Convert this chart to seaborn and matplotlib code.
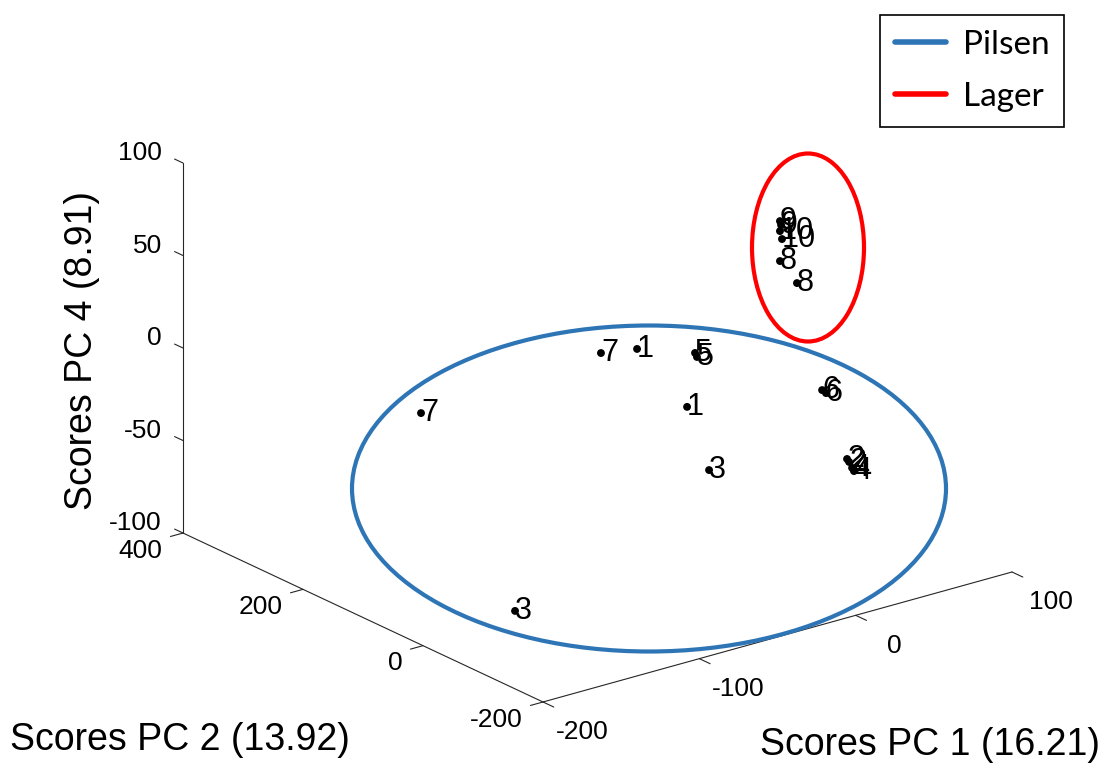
import numpy as np
import pandas as pd
import matplotlib
matplotlib.use("Agg")
import matplotlib.pyplot as plt
import seaborn as sns
from mpl_toolkits.mplot3d import proj3d
from matplotlib.patches import Ellipse
from matplotlib.lines import Line2D

# ---------------- data ----------------
sample_labels = ["7", "7", "1", "1", "5", "5", "3", "3", "6", "6", "2", "2", "4", "4",
                 "9", "9", "10", "10", "8", "8"]
beer_type = ["Pilsen"] * 14 + ["Lager"] * 6
pc1_scores = [-143.7, -28.6, -24.7, -11.9, 4.7, 4.4, -24.7, -179.5, 47.6, 49.3,
              48.2, 49.5, 49.9, 51.1, 66.7, 67.4, 66.7, 68.0, 66.7, 69.9]
pc2_scores = [150, 150, 100, 50, 80, 76, -20, -100, -20, -22,
              -60, -60, -64, -64, 100, 100, 100, 100, 100, 80]
pc4_scores = [-10.3, -4.8, 4.1, -22.6, -1.9, -3.4, -43.1, -70.8, -16.8, -18.5,
              -48.1, -50.0, -52.7, -54.7, 51.8, 49.5, 46.4, 41.8, 30.2, 20.6]

pc1_ticks = [-200, -100, 0, 100]
pc2_ticks = [-200, 0, 200, 400]
pc4_ticks = [-100, -50, 0, 50, 100]

group_names = ["Pilsen", "Lager"]
group_colors = ["#2E75B6", "#FF0000"]

xlabel_text = "Scores PC 1 (16.21)"
ylabel_text = "Scores PC 2 (13.92)"
zlabel_text = "Scores PC 4 (8.91)"

df = pd.DataFrame({"label": sample_labels, "type": beer_type,
                   "pc1": pc1_scores, "pc2": pc2_scores, "pc4": pc4_scores})

# ---------------- figure ----------------
W, H, DPI = 1106, 767, 100
sns.set_theme(style="white")
plt.rcParams["font.family"] = ["Liberation Sans", "DejaVu Sans"]
plt.rcParams["text.color"] = "black"
palette = dict(zip(group_names, sns.color_palette(group_colors)))

fig = plt.figure(figsize=(W / DPI, H / DPI), dpi=DPI)
fig.patch.set_facecolor("white")

side = 700
ax = fig.add_axes([200 / W, 30 / H, side / W, side / H], projection="3d")
ax.set_proj_type("ortho")
ax.view_init(elev=21.14, azim=-127.54)
ax.set_box_aspect((591.5, 590.8, 396.7))
xlo, xhi = pc1_ticks[0], pc1_ticks[-1]
ylo, yhi = pc2_ticks[0], pc2_ticks[-1]
zlo, zhi = pc4_ticks[0], pc4_ticks[-1]
ax.set_xlim(xlo, xhi)
ax.set_ylim(ylo, yhi)
ax.set_zlim(zlo, zhi)
ax.set_axis_off()
ax.patch.set_alpha(0)


def proj2d(xs, ys, zs):
    px, py, _ = proj3d.proj_transform(np.atleast_1d(np.asarray(xs, float)),
                                      np.atleast_1d(np.asarray(ys, float)),
                                      np.atleast_1d(np.asarray(zs, float)), ax.get_proj())
    return px, py


def to_px(xs, ys, zs):
    px, py = proj2d(xs, ys, zs)
    d = ax.transData.transform(np.column_stack([px, py]))
    return np.column_stack([d[:, 0], H - d[:, 1]])


# calibrate the axes box so that the 3D box corners land where the reference has them
ref_corners = np.array([[xlo, ylo, zlo], [xhi, ylo, zlo], [xlo, yhi, zlo], [xlo, yhi, zhi]])
target_px = np.array([[543, 702], [1012, 572], [183, 533], [183, 163]], float)
fig.canvas.draw()
cur = to_px(*ref_corners.T)
cv, tv = cur - cur[0], target_px - target_px[0]
s = (cv * tv).sum() / (cv * cv).sum()
pos = ax.get_position()
cx, cy = pos.x0 + pos.width / 2, pos.y0 + pos.height / 2
nw, nh = pos.width * s, pos.height * s
ax.set_position([cx - nw / 2, cy - nh / 2, nw, nh])
fig.canvas.draw()
cur = to_px(*ref_corners.T)
shift = (target_px - cur).mean(axis=0)
pos = ax.get_position()
ax.set_position([pos.x0 + shift[0] / W, pos.y0 - shift[1] / H, pos.width, pos.height])
fig.canvas.draw()


def label3d(x, y, z, s, **kw):
    px, py = proj2d(x, y, z)
    ax.text2D(px[0], py[0], s, transform=ax.transData, **kw)


# ---------------- axes lines, ticks, tick labels ----------------
lk = dict(color="#262626", lw=0.8, clip_on=False)
ax.plot([xlo, xhi], [ylo, ylo], [zlo, zlo], **lk)
ax.plot([xlo, xlo], [ylo, yhi], [zlo, zlo], **lk)
ax.plot([xlo, xlo], [yhi, yhi], [zlo, zhi], **lk)

tick_fs = 19
for t in pc1_ticks:
    ax.plot([t, t], [ylo, ylo - 18], [zlo, zlo], **lk)
    label3d(t, ylo - 65, zlo, f"{t}", ha="center", va="top", fontsize=tick_fs, color="black")
for t in pc2_ticks:
    ax.plot([xlo, xlo - 8], [t, t], [zlo, zlo], **lk)
    label3d(xlo - 13, t, zlo, f"{t}", ha="right", va="top", fontsize=tick_fs, color="black")
for t in pc4_ticks:
    ax.plot([xlo, xlo], [yhi, yhi + 14], [t, t], **lk)
    label3d(xlo, yhi + 35, t, f"{t}", ha="right", va="center", fontsize=tick_fs, color="black")

# ---------------- points and sample labels ----------------
for g in group_names:
    sub = df[df["type"] == g]
    ax.scatter(sub["pc1"], sub["pc2"], sub["pc4"], color="black", s=32,
               depthshade=False, edgecolors="none")
    for _, r in sub.iterrows():
        label3d(r["pc1"], r["pc2"], r["pc4"], r["label"], ha="left", va="center",
                fontsize=22, color="black")

# ---------------- axis titles ----------------
lab_fs = 27
fig.text(10 / W, 1 - 740 / H, ylabel_text, ha="left", va="center", fontsize=lab_fs)
fig.text(1100 / W, 1 - 745 / H, xlabel_text, ha="right", va="center", fontsize=lab_fs)
fig.text(82 / W, 1 - 350 / H, zlabel_text, ha="center", va="center", rotation=90,
         fontsize=lab_fs)

# ---------------- group ellipses (annotation) ----------------
ell_geom = {"Pilsen": (649, 488.5, 297, 163), "Lager": (808, 247.5, 56, 94)}
for g in group_names:
    ex, ey, ea, eb = ell_geom[g]
    fig.add_artist(Ellipse((ex / W, 1 - ey / H), 2 * ea / W, 2 * eb / H,
                           transform=fig.transFigure, fill=False,
                           edgecolor=palette[g], lw=3.0))

# ---------------- legend ----------------
handles = [Line2D([], [], color=palette[g], lw=4) for g in group_names]
leg = fig.legend(handles, group_names, loc="upper left",
                 bbox_to_anchor=(879.5 / W, 1 - 15 / H), borderaxespad=0,
                 prop={"family": "Lato", "size": 24}, frameon=True, fancybox=False,
                 edgecolor="black", framealpha=1, handlelength=1.55,
                 handletextpad=0.5, borderpad=0.45, labelspacing=0.65)
leg.get_frame().set_linewidth(1.2)

fig.savefig("out.png", dpi=DPI, facecolor="white")
